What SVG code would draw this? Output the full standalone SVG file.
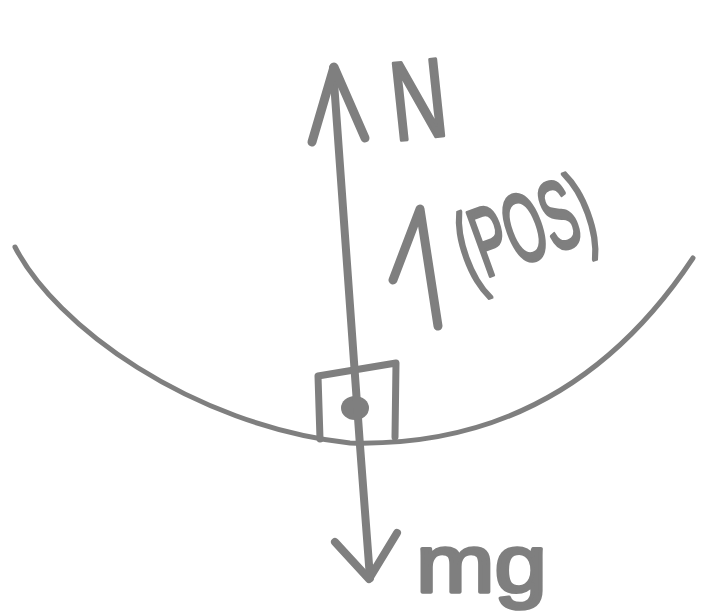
<svg xmlns="http://www.w3.org/2000/svg" width="704" height="614" viewBox="0 0 704 614">
<style>
.s{fill:none;stroke:#7f7f7f;stroke-linecap:round;stroke-linejoin:round}
.t{fill:#7f7f7f;stroke:#7f7f7f;stroke-width:3.5;stroke-linejoin:round;font-family:"Liberation Sans",Arial,sans-serif}
</style>
<rect width="704" height="614" fill="#ffffff"/>
<g id="track">
<path class="s" stroke-width="5" d="M15,247 C55,325 190,425 350,443 C500,447 612,380 693,258"/>
</g>
<g id="block">
<path class="s" stroke-width="7" d="M320,439 L318,376 L396,363 L395,437"/>
<ellipse cx="355" cy="408" rx="14" ry="12" fill="#7f7f7f"/>
</g>
<g id="connectors">
<path class="s" stroke-width="8" d="M333,68 C343,200 356,400 370,578"/>
<path class="s" stroke-width="9" d="M312,142 L334,67 L365,138"/>
<path class="s" stroke-width="8" d="M335,542 L369,579 L397,533"/>
<path class="s" stroke-width="9" d="M393,280 L420,209 L438,326"/>
</g>
<g id="label-N">
<text class="t" x="0" y="0" font-size="112" transform="rotate(-6 418 95) translate(390 138) scale(0.69 1)">N</text>
</g>
<g id="label-pos">
<text class="t" x="0" y="0" font-size="98" transform="rotate(-20 522 222) translate(452 262) scale(0.515 1)">(POS)</text>
</g>
<g id="label-mg">
<text class="t" x="0" y="0" font-size="82" transform="translate(416 592) scale(1.15 1)">mg</text>
</g>
</svg>
